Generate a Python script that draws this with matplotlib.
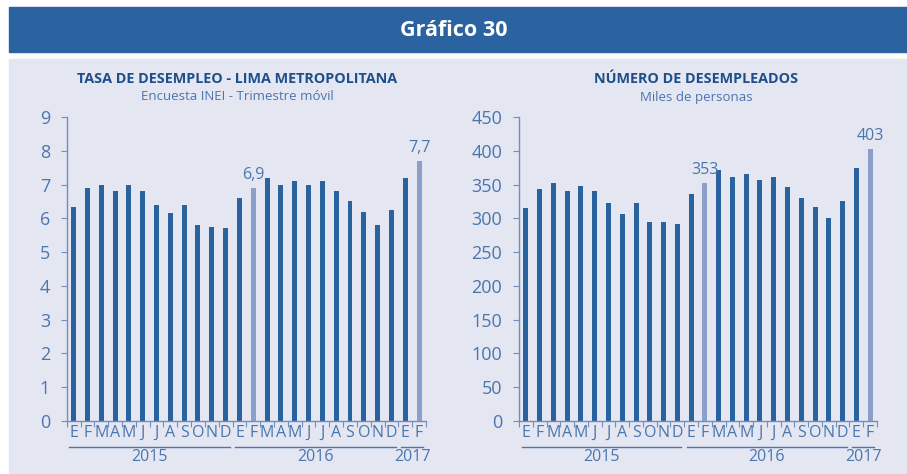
import matplotlib.pyplot as plt
from matplotlib.patches import Rectangle
import matplotlib.transforms as mtransforms

# data
months = ['E', 'F', 'M', 'A', 'M', 'J', 'J', 'A', 'S', 'O', 'N', 'D',
          'E', 'F', 'M', 'A', 'M', 'J', 'J', 'A', 'S', 'O', 'N', 'D',
          'E', 'F']
years = ['2015', '2016', '2017']
year_len = [12, 12, 2]
tasa = [6.35, 6.9, 7.0, 6.8, 7.0, 6.8, 6.4, 6.15, 6.4, 5.8, 5.75, 5.7,
        6.6, 6.9, 7.2, 7.0, 7.1, 7.0, 7.1, 6.8, 6.5, 6.2, 5.8, 6.25,
        7.2, 7.7]
desempleados = [315, 343, 352, 341, 348, 340, 322, 307, 322, 294, 294, 291,
                336, 353, 371, 361, 365, 357, 361, 347, 330, 317, 300, 325,
                375, 403]
highlight = [13, 25]
tasa_labels = ['6,9', '7,7']
desemp_labels = ['353', '403']

DARK = '#2a62a0'
LIGHT = '#8c9fc8'
TXT = '#4a76ae'
AXC = '#6f8fbf'
PANEL = '#e4e6f2'

plt.rcParams['font.family'] = ['Open Sans', 'DejaVu Sans']

fig = plt.figure(figsize=(9.07, 4.74), dpi=100)
fig.patch.set_facecolor('white')

# banner and panel
fig.patches.append(Rectangle((9 / 907, 1 - 52 / 474), 898 / 907, 45 / 474,
                             transform=fig.transFigure, color='#2a63a0', zorder=-10))
fig.patches.append(Rectangle((9 / 907, 0), 898 / 907, 1 - 59 / 474,
                             transform=fig.transFigure, color=PANEL, zorder=-10))
fig.text(0.5, 1 - 30 / 474, 'Gráfico 30', color='white', fontsize=15.5,
         fontweight='bold', ha='center', va='center')


def draw(ax, vals, ymax, step, labels, title, subtitle, cx):
    n = len(vals)
    x = list(range(n))
    colors = [LIGHT if i in highlight else DARK for i in x]
    ax.bar(x, vals, width=0.36, color=colors, zorder=2)
    ax.set_xlim(-0.5, n - 0.5)
    ax.set_ylim(0, ymax)
    ax.set_facecolor('none')
    for s in ['top', 'right']:
        ax.spines[s].set_visible(False)
    for s in ['left', 'bottom']:
        ax.spines[s].set_color(AXC)
        ax.spines[s].set_linewidth(1.0)
    ax.set_yticks(range(0, ymax + 1, step))
    ax.tick_params(axis='y', colors=AXC, labelcolor=TXT, labelsize=13,
                   length=4, direction='out', pad=8)
    ax.set_xticks([i - 0.5 for i in range(n + 1)])
    ax.set_xticklabels([])
    ax.tick_params(axis='x', which='major', colors=AXC, length=4, direction='out')
    ax.set_xticks(x, minor=True)
    ax.set_xticklabels(months, minor=True)
    ax.tick_params(axis='x', which='minor', length=0, labelcolor=TXT,
                   labelsize=11.5, pad=3)

    for i, lab in zip(highlight, labels):
        ax.text(i, vals[i] + ymax * 0.015, lab, ha='center', va='bottom',
                color=TXT, fontsize=11.5)

    # year groups below the months
    trans = mtransforms.blended_transform_factory(ax.transData, ax.transAxes)
    start = 0
    for yr, ln in zip(years, year_len):
        end = start + ln - 1
        ax.plot([start - 0.3, end + 0.3], [-0.085, -0.085], color=TXT,
                lw=1.0, transform=trans, clip_on=False)
        ax.text((start + end) / 2, -0.118, yr, ha='center', va='center',
                color=TXT, fontsize=11.5, transform=trans)
        start += ln

    fig.text(cx, 1 - 79 / 474, title, ha='center', va='center', color='#1f4f8a',
             fontsize=10.4, fontweight='bold')
    fig.text(cx, 1 - 97 / 474, subtitle, ha='center', va='center', color=TXT,
             fontsize=9.5)


ax1 = fig.add_axes([66.7 / 907, 1 - 421 / 474, 359.3 / 907, 304 / 474])
draw(ax1, tasa, 9, 1, tasa_labels, 'TASA DE DESEMPLEO - LIMA METROPOLITANA',
     'Encuesta INEI - Trimestre móvil', 237 / 907)

ax2 = fig.add_axes([519 / 907, 1 - 421 / 474, 358 / 907, 304 / 474])
draw(ax2, desempleados, 450, 50, desemp_labels, 'NÚMERO DE DESEMPLEADOS',
     'Miles de personas', 696 / 907)

fig.savefig('out.png', dpi=100, facecolor=fig.get_facecolor())
